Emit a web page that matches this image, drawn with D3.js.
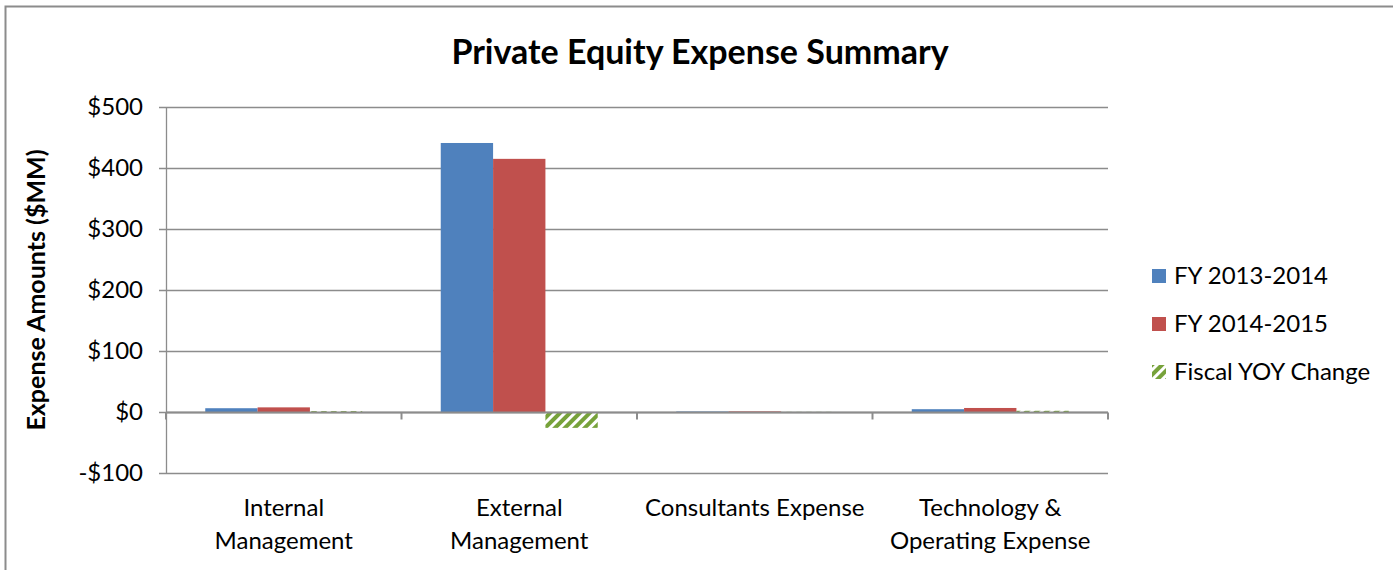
<!DOCTYPE html>
<html>
<head>
<meta charset="utf-8">
<script src="https://cdn.jsdelivr.net/npm/d3@7"></script>
<style>
  body { margin: 0; background: #fff; }
  text { font-family: Lato, "Open Sans", sans-serif; fill: #000; }
</style>
</head>
<body>
<script>
var categories = ["Internal\nManagement", "External\nManagement", "Consultants Expense", "Technology &\nOperating Expense"];
var seriesNames = ["FY 2013-2014", "FY 2014-2015", "Fiscal YOY Change"];
var fy1314 = [6.2, 441, 0.8, 4.6];
var fy1415 = [7.6, 415, 1.0, 6.6];
var yoy = [1.4, -26, 0.2, 2.0];
var yTicks = [-100, 0, 100, 200, 300, 400, 500];

var width = 1393, height = 570;
var margin = {top: 107, left: 166, right: 285, bottom: 97};

var svg = d3.select("body").append("svg")
    .attr("width", width)
    .attr("height", height);

var defs = svg.append("defs");
var pat = defs.append("pattern")
    .attr("id", "hatch")
    .attr("patternUnits", "userSpaceOnUse")
    .attr("width", 7).attr("height", 7)
    .attr("patternTransform", "rotate(45)");
pat.append("rect").attr("width", 7).attr("height", 7).attr("fill", "#fff");
pat.append("rect").attr("width", 4).attr("height", 7).attr("fill", "#77a23a");

// chart border
svg.append("rect")
    .attr("x", 5.5).attr("y", 6.5)
    .attr("width", 1400).attr("height", 600)
    .attr("fill", "none")
    .attr("stroke", "#8c8c8c")
    .attr("stroke-width", 2);

var x = d3.scaleBand()
    .domain(d3.range(categories.length))
    .range([margin.left, width - margin.right]);

var x1 = d3.scaleBand()
    .domain(d3.range(3))
    .range([0, x.bandwidth()])
    .paddingOuter(0.75)
    .paddingInner(0);

var y = d3.scaleLinear()
    .domain([-100, 500])
    .range([473, 107]);

var colors = ["#4f81bd", "#c0504d", "url(#hatch)"];

// gridlines
svg.append("g").selectAll("line")
    .data(yTicks)
    .enter().append("line")
    .attr("x1", margin.left - 7)
    .attr("x2", width - margin.right)
    .attr("y1", function(d) { return Math.round(y(d)) + 0.5; })
    .attr("y2", function(d) { return Math.round(y(d)) + 0.5; })
    .style("stroke", "#8c8c8c")
    .style("stroke-width", 1.3);

// y axis line
svg.append("line")
    .attr("x1", margin.left + 0.5).attr("x2", margin.left + 0.5)
    .attr("y1", y(500)).attr("y2", y(-100))
    .style("stroke", "#8c8c8c").style("stroke-width", 1.3);

svg.append("g").selectAll("text")
    .data(yTicks)
    .enter().append("text")
    .attr("x", margin.left - 23)
    .attr("y", function(d) { return y(d); })
    .attr("dy", "0.35em")
    .attr("text-anchor", "end")
    .style("font-size", "24px")
    .text(function(d) { return (d < 0 ? "-$" : "$") + Math.abs(d); });

// bars
var series = [fy1314, fy1415, yoy];
series.forEach(function(vals, s) {
    svg.append("g").selectAll("rect")
        .data(vals)
        .enter().append("rect")
        .attr("x", function(d, i) { return x(i) + x1(s); })
        .attr("width", x1.bandwidth())
        .attr("y", function(d) { return y(Math.max(0, d)); })
        .attr("height", function(d) { return Math.abs(y(d) - y(0)); })
        .attr("fill", colors[s]);
});

// x axis at zero
var zeroY = Math.round(y(0)) + 0.5;
svg.append("line")
    .attr("x1", margin.left).attr("x2", width - margin.right)
    .attr("y1", zeroY).attr("y2", zeroY)
    .style("stroke", "#8c8c8c").style("stroke-width", 2);

svg.append("g").selectAll("line")
    .data(d3.range(categories.length + 1))
    .enter().append("line")
    .attr("x1", function(d) { return margin.left + d * x.bandwidth(); })
    .attr("x2", function(d) { return margin.left + d * x.bandwidth(); })
    .attr("y1", zeroY).attr("y2", zeroY + 7)
    .style("stroke", "#8c8c8c").style("stroke-width", 2);

// category labels
var cat = svg.append("g").selectAll("text")
    .data(categories)
    .enter().append("text")
    .attr("text-anchor", "middle")
    .attr("x", function(d, i) { return x(i) + x.bandwidth() / 2; })
    .attr("y", 516)
    .style("font-size", "24px");
cat.each(function(d) {
    var lines = d.split("\n");
    var t = d3.select(this);
    var cx = t.attr("x");
    lines.forEach(function(l, k) {
        t.append("tspan").attr("x", cx).attr("dy", k === 0 ? 0 : 33).text(l);
    });
});

// title
svg.append("text")
    .attr("x", 700).attr("y", 64)
    .attr("text-anchor", "middle")
    .style("font-size", "34px")
    .style("font-weight", "bold")
    .text("Private Equity Expense Summary");

// y label
svg.append("text")
    .attr("transform", "translate(45,290) rotate(-90)")
    .attr("text-anchor", "middle")
    .style("font-size", "25px")
    .style("font-weight", "bold")
    .text("Expense Amounts ($MM)");

// legend
var legend = svg.append("g").selectAll("g")
    .data(seriesNames)
    .enter().append("g")
    .attr("transform", function(d, i) { return "translate(1152," + (276 + i * 48) + ")"; });
legend.append("rect")
    .attr("x", 0).attr("y", -7)
    .attr("width", 14).attr("height", 14)
    .attr("fill", function(d, i) { return colors[i]; });
legend.append("text")
    .attr("x", 22).attr("y", 0)
    .attr("dy", "0.35em")
    .style("font-size", "24px")
    .text(function(d) { return d; });
</script>
</body>
</html>
